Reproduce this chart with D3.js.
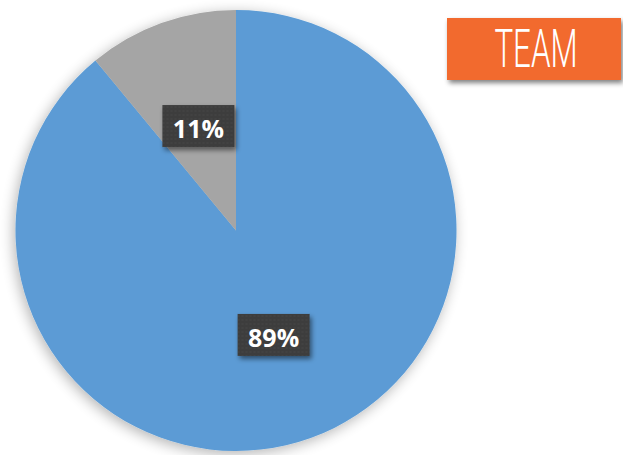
<!DOCTYPE html>
<html><head><meta charset="utf-8">
<script src="https://cdn.jsdelivr.net/npm/d3@7"></script>
<style>html,body{margin:0;padding:0;background:#fff;}svg{display:block;}</style>
</head><body>
<svg id="chart" width="623" height="455"></svg>
<script>
const categories = ["Team", "Other"];
const values = [89, 11];
const labels = ["89%", "11%"];
const colors = ["#5B9BD5", "#A5A5A5"];
const title = "TEAM";

const svg = d3.select("#chart");
const defs = svg.append("defs");
const f = defs.append("filter").attr("id","pieShadow").attr("x","-20%").attr("y","-20%").attr("width","140%").attr("height","140%");
f.append("feGaussianBlur").attr("in","SourceAlpha").attr("stdDeviation",7).attr("result","b");
f.append("feOffset").attr("in","b").attr("dx",-2).attr("dy",3).attr("result","o");
f.append("feComponentTransfer").attr("in","o").attr("result","o2").append("feFuncA").attr("type","linear").attr("slope",0.3);
const m = f.append("feMerge"); m.append("feMergeNode").attr("in","o2"); m.append("feMergeNode").attr("in","SourceGraphic");

const f2 = defs.append("filter").attr("id","boxShadow").attr("x","-30%").attr("y","-30%").attr("width","160%").attr("height","160%");
f2.append("feGaussianBlur").attr("in","SourceAlpha").attr("stdDeviation",2.5).attr("result","b");
f2.append("feOffset").attr("in","b").attr("dx",2).attr("dy",3).attr("result","o");
f2.append("feComponentTransfer").attr("in","o").attr("result","o2").append("feFuncA").attr("type","linear").attr("slope",0.5);
const m2 = f2.append("feMerge"); m2.append("feMergeNode").attr("in","o2"); m2.append("feMergeNode").attr("in","SourceGraphic");

const pat = defs.append("pattern").attr("id","dots").attr("width",4).attr("height",4).attr("patternUnits","userSpaceOnUse");
pat.append("rect").attr("width",4).attr("height",4).attr("fill","#3d3d3d");
pat.append("circle").attr("cx",1).attr("cy",1).attr("r",0.7).attr("fill","#4a4a4a");

const cx = 236, cy = 230.5, R = 220.5;
const pie = d3.pie().sort(null).value(d => d)(values);
const arc = d3.arc().innerRadius(0).outerRadius(R);
const g = svg.append("g").attr("transform", `translate(${cx},${cy})`);
g.append("g").attr("filter","url(#pieShadow)")
  .selectAll("path").data(pie).join("path")
  .attr("d", arc).attr("fill", (d,i) => colors[i]);

const labelArc = d3.arc().innerRadius(111).outerRadius(111);
const lg = g.selectAll("g.lab").data(pie).join("g").attr("class","lab")
  .attr("transform", d => { const c = labelArc.centroid(d); return `translate(${c[0]},${c[1]})`; });
lg.append("rect").attr("x",-36).attr("y",-21).attr("width",72).attr("height",42)
  .attr("fill","url(#dots)").attr("filter","url(#boxShadow)");
lg.append("text").attr("text-anchor","middle").attr("y",3).attr("dy","0.36em")
  .attr("fill","#fff").attr("font-family","Open Sans, Lato, sans-serif").attr("font-weight","bold").attr("font-size",25)
  .text((d,i) => labels[i]);

const tg = svg.append("g").attr("filter","url(#boxShadow)");
tg.append("rect").attr("x",447).attr("y",18).attr("width",174).attr("height",62).attr("fill","#F26B2E");
svg.append("text").attr("x",0).attr("y",0)
  .attr("transform","translate(536,67) scale(0.58,1)")
  .attr("text-anchor","middle").attr("fill","#fff")
  .attr("font-family","Liberation Sans Narrow, Roboto, sans-serif").attr("font-weight","300").attr("font-size",54)
  .text(title);
</script>
</body></html>
